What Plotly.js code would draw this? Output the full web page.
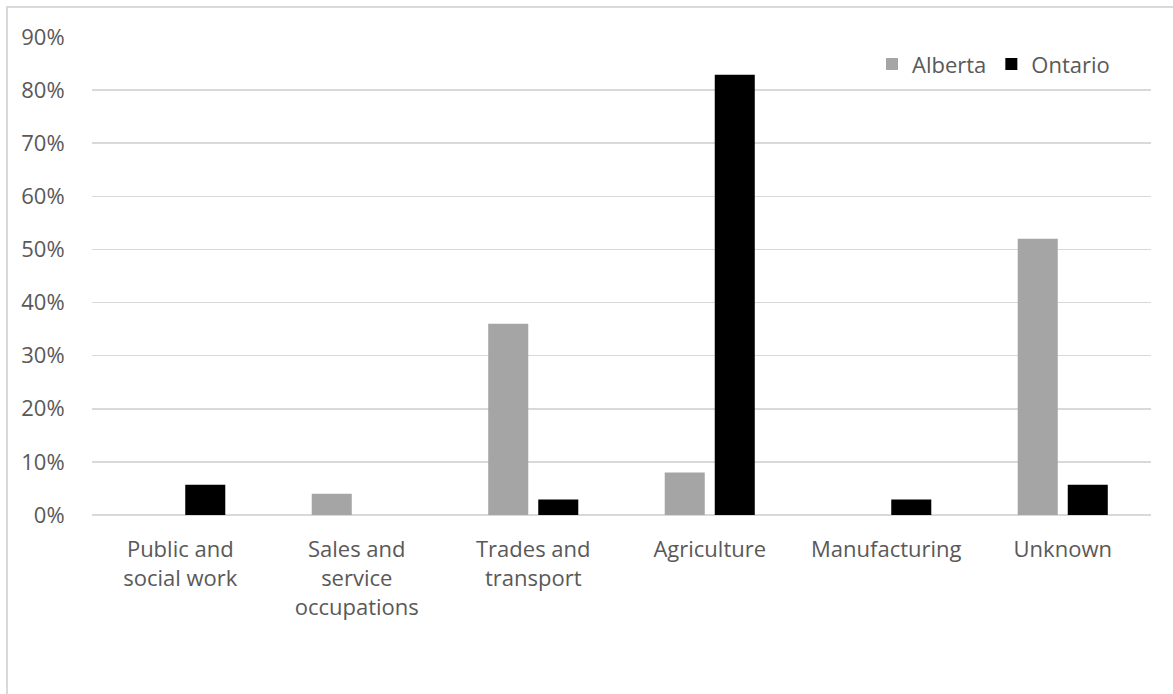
<!DOCTYPE html>
<html>
<head>
<meta charset="utf-8">
<script src="https://cdn.plot.ly/plotly-3.0.1.min.js"></script>
<style>
  html, body { margin: 0; padding: 0; background: #fff; }
  #wrap { position: relative; width: 1173px; height: 694px; overflow: hidden; }
  #chart { position: absolute; left: 0; top: 0; width: 1173px; height: 694px; }
  #frame { position: absolute; left: 6px; top: 6px; width: 1200px; height: 720px;
           border-top: 2px solid #d9d9d9; border-left: 2px solid #d9d9d9; pointer-events: none; }
</style>
</head>
<body>
<div id="wrap">
  <div id="chart"></div>
  <div id="frame"></div>
</div>
<script>
const categories = [
  "Public and<br>social work",
  "Sales and<br>service<br>occupations",
  "Trades and<br>transport",
  "Agriculture",
  "Manufacturing",
  "Unknown"
];
const albertaValues = [0, 4, 36, 8, 0, 52];
const ontarioValues = [5.7, 0, 2.9, 82.9, 2.9, 5.7];
const yTickValues = [0, 10, 20, 30, 40, 50, 60, 70, 80, 90];
const yTickLabels = ["0%", "10%", "20%", "30%", "40%", "50%", "60%", "70%", "80%", "90%"];

const fontFamily = "'Open Sans', 'Liberation Sans', sans-serif";
const textColor = "#595959";

const traces = [
  { type: "bar", name: "Alberta", x: categories, y: albertaValues,
    marker: { color: "#a5a5a5" }, hoverinfo: "skip" },
  { type: "bar", name: "Ontario", x: categories, y: ontarioValues,
    marker: { color: "#000000" }, hoverinfo: "skip" }
];

const layout = {
  width: 1173, height: 694,
  margin: { l: 92, r: 22, t: 37, b: 178.5, pad: 0 },
  paper_bgcolor: "#ffffff", plot_bgcolor: "#ffffff",
  font: { family: fontFamily, size: 22, color: textColor },
  barmode: "group",
  bargap: 0.433,
  bargroupgap: 0.2,
  showlegend: true,
  legend: {
    orientation: "h", x: 0.966, xanchor: "right", y: 0.943, yanchor: "middle",
    font: { family: fontFamily, size: 22, color: textColor },
    bgcolor: "rgba(0,0,0,0)", itemsizing: "constant", traceorder: "normal",
    itemwidth: 30
  },
  xaxis: {
    type: "category", showgrid: false, zeroline: false, showline: false,
    ticks: "outside", ticklen: 15, tickcolor: "rgba(0,0,0,0)",
    tickfont: { family: fontFamily, size: 22, color: textColor },
    fixedrange: true
  },
  yaxis: {
    range: [0, 90], tickvals: yTickValues, ticktext: yTickLabels,
    showgrid: true, gridcolor: "#d9d9d9", gridwidth: 1.5,
    zeroline: true, zerolinecolor: "#d9d9d9", zerolinewidth: 1.5,
    showline: false, ticks: "outside", ticklen: 22, tickcolor: "rgba(0,0,0,0)",
    tickfont: { family: fontFamily, size: 22, color: textColor },
    fixedrange: true
  }
};

Plotly.newPlot("chart", traces, layout, { displayModeBar: false, staticPlot: true });
</script>
</body>
</html>
